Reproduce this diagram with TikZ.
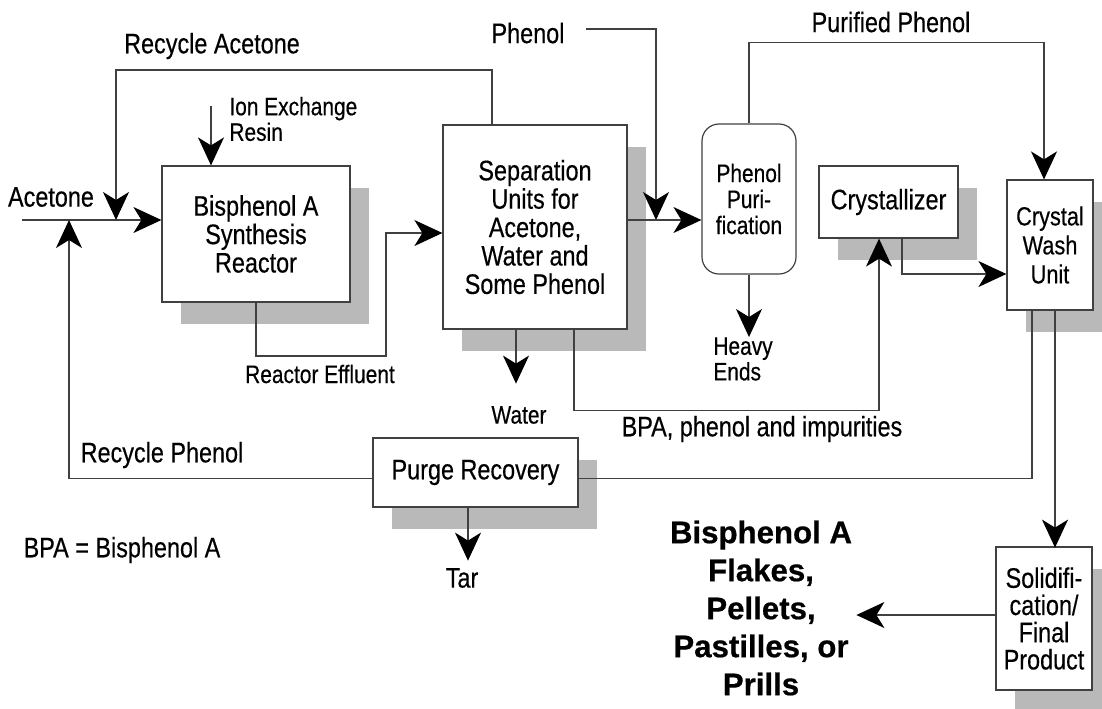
\documentclass[tikz,border=0pt]{standalone}
\usepackage{fontspec}
\setmainfont{Liberation Sans}[FakeStretch=0.83, FakeBold=0.4]
\newfontfamily\prodfont{Liberation Sans}[FakeBold=0.6]
\usetikzlibrary{positioning,calc,arrows.meta,shadows}

\begin{document}
\begin{tikzpicture}[
    x=0.5pt, y=-0.5pt,
    unit/.style={rectangle, draw=black!75, fill=white, line width=0.6pt, align=center, inner sep=2pt,
        font=\fontsize{14.1}{14.2}\selectfont,
        drop shadow={shadow xshift=9.5pt, shadow yshift=-11pt, fill=gray!55, opacity=1}},
    tower/.style={rectangle, rounded corners=8.5pt, draw=black!75, fill=white, line width=0.6pt, align=center,
        inner sep=2pt, font=\fontsize{12.6}{13}\selectfont},
    txt/.style={inner sep=0pt, font=\fontsize{14.1}{14.2}\selectfont},
    smalltxt/.style={inner sep=0pt, font=\fontsize{12.6}{12.8}\selectfont},
    line/.style={draw=black!75, line width=0.6pt},
    flow/.style={line, -{Stealth[length=14pt, width=13pt, inset=4pt, color=black]}}
]
\useasboundingbox (0,0) rectangle (1102,708);

% Process units
\node[unit, minimum width=94pt, minimum height=68pt] (reactor) at (256,234) {Bisphenol A\\Synthesis\\Reactor};
\node[unit, minimum width=92pt, minimum height=102pt] (sep) at (535,227) {Separation\\Units for\\Acetone,\\Water and\\Some Phenol};
\node[tower, minimum width=47pt, minimum height=75pt] (purif) at (749,199) {Phenol\\Puri-\\fication};
\node[unit, minimum width=69.5pt, minimum height=36pt] (cryst) at (888.5,202) {Crystallizer};
\node[unit, minimum width=43pt, minimum height=65pt, font=\fontsize{13.1}{14.5}\selectfont] (wash) at (1050,245) {Crystal\\Wash\\Unit};
\node[unit, minimum width=102.5pt, minimum height=34.5pt] (purge) at (475.5,472.5) {Purge Recovery};
\node[unit, minimum width=48pt, minimum height=71.5pt, font=\fontsize{14.1}{13.6}\selectfont] (solid) at (1044,618.5) {Solidifi-\\cation/\\Final\\Product};

% Stream labels
\node[txt] (acetone) at (51,197) {Acetone};
\node[txt] (racetlbl) at (212,46) {Recycle Acetone};
\node[smalltxt, align=left, anchor=west] (resinlbl) at (229,119) {Ion Exchange\\Resin};
\node[smalltxt] (efflbl) at (320,374) {Reactor Effluent};
\node[txt] (phenollbl) at (528,33) {Phenol};
\node[txt] (purelbl) at (891,22) {Purified Phenol};
\node[smalltxt, align=left] (heavy) at (743,359) {Heavy\\Ends};
\node[smalltxt] (water) at (519,415) {Water};
\node[txt] (bpalbl) at (762,429) {BPA, phenol and impurities};
\node[txt] (rphenlbl) at (162,455) {Recycle Phenol};
\node[txt] (legend) at (122,550) {BPA = Bisphenol A};
\node[txt] (tar) at (462,578) {Tar};
\node[font=\prodfont\bfseries\fontsize{15.6}{19}\selectfont, align=center, inner sep=2pt] (product) at (761,608)
    {Bisphenol A\\Flakes,\\Pellets,\\Pastilles, or\\Prills};

% Junction points
\coordinate (acetin) at (22,220);
\coordinate (mixA) at (116,220);
\coordinate (mixB) at (69,220);
\coordinate (phin) at (586,29);
\coordinate (mixC) at (656,220);
\coordinate (resin) at (211,106);
\coordinate (eff) at (386,356);
\coordinate (solidout) at ($(solid.west)+(0,-3.5)$);

% Reactor section
\draw[flow] (acetin) -- (acetin -| reactor.west);
\draw[flow] (resin) -- (resin |- reactor.north);
\draw[flow] ($(sep.north)+(-43,0)$) |- ($(mixA)+(0,-150)$) -- (mixA);
\draw[flow] (reactor.south) |- (eff) |- ($(sep.west)+(0,6)$);

% Separation and phenol purification
\draw[flow] (phin) -| (mixC);
\draw[flow] (sep.east |- mixC) -- (purif.west |- mixC);
\draw[flow] (purif.south) -- (purif.south |- heavy.north);
\draw[flow] ($(sep.south)+(-19,0)$) -- ($(sep.south)+(-19,54)$);
\draw[flow] ($(sep.south)+(39,0)$) |- ($(cryst.south)+(-9.5,172)$) -- ($(cryst.south)+(-9.5,0)$);
\draw[flow] (purif.north) |- ($(wash.north)+(-6,-137)$) -- ($(wash.north)+(-6,0)$);

% Crystallization and product
\draw[flow] ($(cryst.south)+(13.5,0)$) |- ($(wash.west)+(0,29)$);
\draw[flow] ($(wash.south)+(5,0)$) -- ($(wash.south)+(5,237)$);
\draw[flow] (solidout) -- (solidout -| product.east);

% Recycle phenol and purge
\draw[line] ($(wash.south)+(-18,0)$) |- ($(purge.east)+(0,6)$);
\draw[flow] ($(purge.west)+(0,6)$) -| (mixB);
\draw[flow] ($(purge.south)+(-7.5,0)$) -- ($(purge.south)+(-7.5,53)$);

\end{tikzpicture}
\end{document}
